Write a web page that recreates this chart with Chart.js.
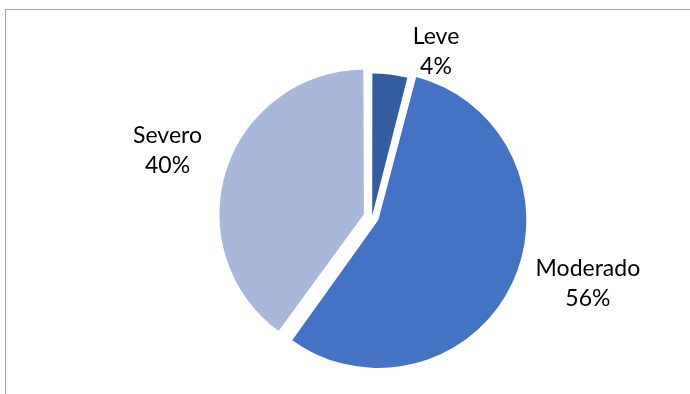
<!DOCTYPE html>
<html>
<head>
<meta charset="utf-8">
<script src="https://cdn.jsdelivr.net/npm/chart.js@4/dist/chart.umd.min.js"></script>
<style>
  html, body { margin: 0; padding: 0; background: #fff; overflow: hidden; }
  #wrap { position: relative; width: 690px; height: 394px; }
  #frame {
    position: absolute; left: 5px; top: 9px; width: 700px; height: 400px;
    border-left: 1px solid #a6a6a6; border-top: 1px solid #a6a6a6;
  }
  canvas { position: absolute; left: 0; top: 0; }
</style>
</head>
<body>
<div id="wrap">
  <div id="frame"></div>
  <canvas id="grafico" width="690" height="394"></canvas>
</div>
<script>
// dados do gráfico
const categorias = ['Leve', 'Moderado', 'Severo'];
const valores = [4, 56, 40];
const rotulos = ['4%', '56%', '40%'];
const cores = ['#355c9f', '#4472c4', '#a9b7db'];

// ajuste dos rótulos (desvio de ângulo em graus, distância ao centro)
const ajusteAngulo = [14, -8, 0];
const distRotulo = [177, 226, 215];

const pluginRotulos = {
    id: 'rotulos',
    afterDatasetsDraw(chart) {
        const ctx = chart.ctx;
        const meta = chart.getDatasetMeta(0);
        ctx.save();
        ctx.font = '23px Lato';
        ctx.fillStyle = '#000';
        ctx.textAlign = 'center';
        ctx.textBaseline = 'middle';
        meta.data.forEach((arco, i) => {
            const p = arco.getProps(['x', 'y', 'startAngle', 'endAngle'], true);
            const meio = (p.startAngle + p.endAngle) / 2 + ajusteAngulo[i] * Math.PI / 180;
            const x = p.x + Math.cos(meio) * distRotulo[i];
            const y = p.y + Math.sin(meio) * distRotulo[i];
            ctx.fillText(categorias[i], x, y - 15);
            ctx.fillText(rotulos[i], x, y + 15);
        });
        ctx.restore();
    }
};

new Chart(document.getElementById('grafico'), {
    type: 'pie',
    data: {
        labels: categorias,
        datasets: [{
            data: valores,
            backgroundColor: cores,
            borderWidth: 0,
            offset: [6, 28, 34]
        }]
    },
    options: {
        responsive: false,
        animation: false,
        layout: { padding: { top: 59, bottom: 19, left: 214, right: 160 } },
        plugins: { legend: { display: false }, tooltip: { enabled: false } }
    },
    plugins: [pluginRotulos]
});
</script>
</body>
</html>
